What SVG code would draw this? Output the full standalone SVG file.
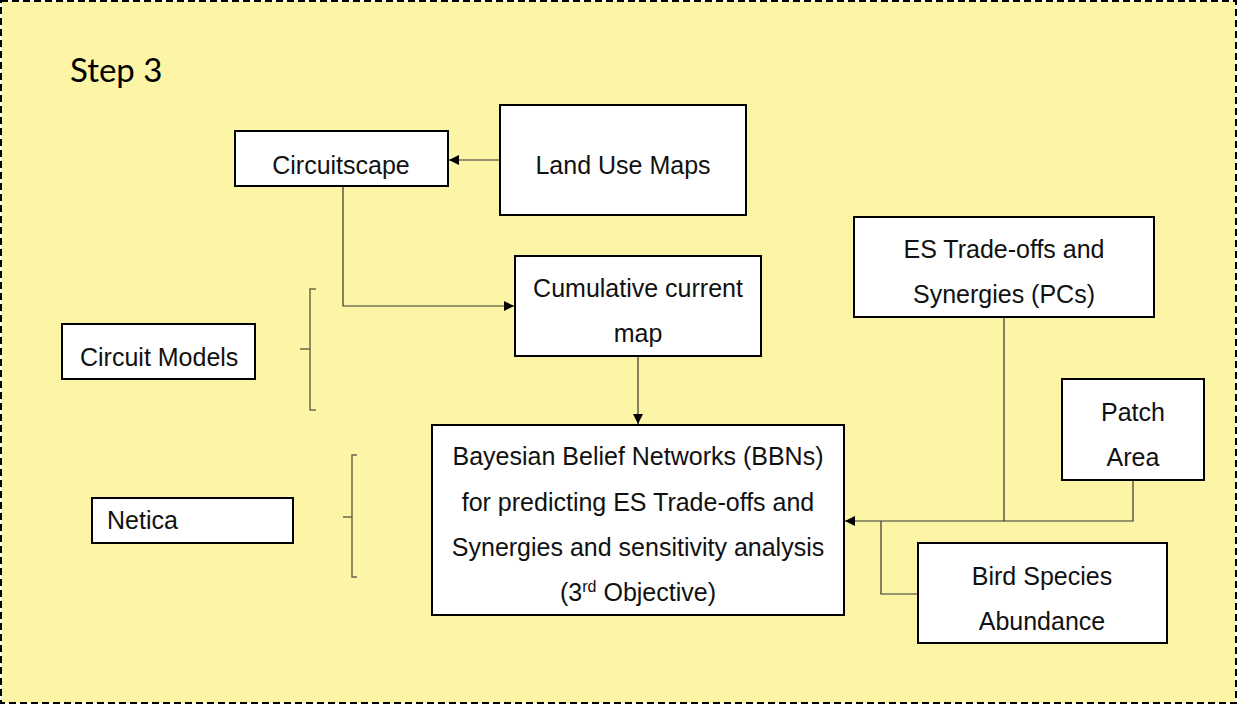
<svg xmlns="http://www.w3.org/2000/svg" width="1237" height="704" viewBox="0 0 1237 704">
<defs>
<marker id="arr" viewBox="0 0 10 10" refX="10" refY="5" markerWidth="10" markerHeight="10" markerUnits="userSpaceOnUse" orient="auto">
<path d="M0,0 L10,5 L0,10 Z" fill="#000"/>
</marker>
<style>
.box{fill:#fff;stroke:#000;stroke-width:2}
.t{font-family:"Liberation Sans",Arial,sans-serif;font-size:25px;fill:#111;text-anchor:middle}
.c{fill:none;stroke:#333;stroke-width:1.2}
.br{fill:none;stroke:#6b6848;stroke-width:1.5}
</style>
</defs>
<rect x="1" y="1" width="1235" height="702" fill="#fdf5a6" stroke="#000" stroke-width="2" stroke-dasharray="7,4"/>
<text x="70" y="82" font-family="Lato,'Open Sans',sans-serif" font-size="33" fill="#000">Step 3</text>

<g id="connectors">
<path class="c" d="M500,160 L449,160" marker-end="url(#arr)"/>
<path class="c" d="M343,187 L343,306 L514,306" marker-end="url(#arr)"/>
<path class="c" d="M638,357 L638,424" marker-end="url(#arr)"/>
<path class="c" d="M1004,318 L1004,521 L845,521" marker-end="url(#arr)"/>
<path class="c" d="M1133,481 L1133,521 L1004,521"/>
<path class="c" d="M918,594 L881,594 L881,521"/>
<path class="br" d="M316,289 L310,289 L310,410 L316,410 M300,349 L310,349"/>
<path class="br" d="M357,455 L352,455 L352,577 L357,577 M343,517 L352,517"/>
</g>

<g id="circuitscape"><rect class="box" x="235" y="131" width="213" height="55"/><text class="t" x="341" y="174">Circuitscape</text></g>
<g id="landuse"><rect class="box" x="500" y="105" width="246" height="110"/><text class="t" x="623" y="174">Land Use Maps</text></g>
<g id="cumulative"><rect class="box" x="515" y="256" width="246" height="100"/><text class="t" x="638" y="297">Cumulative current</text><text class="t" x="638" y="342">map</text></g>
<g id="circuitmodels"><rect class="box" x="62" y="324" width="193" height="55"/><text class="t" x="80" y="366" style="text-anchor:start">Circuit Models</text></g>
<g id="netica"><rect class="box" x="92" y="498" width="201" height="45"/><text class="t" x="107" y="529" style="text-anchor:start">Netica</text></g>
<g id="bbn"><rect class="box" x="432" y="425" width="412" height="190"/>
<text class="t" x="638" y="465">Bayesian Belief Networks (BBNs)</text>
<text class="t" x="638" y="511">for predicting ES Trade-offs and</text>
<text class="t" x="638" y="556">Synergies and sensitivity analysis</text>
<text class="t" x="638" y="601">(3<tspan font-size="16" dy="-9">rd</tspan><tspan dy="9"> Objective)</tspan></text>
</g>
<g id="estradeoffs"><rect class="box" x="854" y="217" width="300" height="100"/><text class="t" x="1004" y="258">ES Trade-offs and</text><text class="t" x="1004" y="303">Synergies (PCs)</text></g>
<g id="patcharea"><rect class="box" x="1062" y="379" width="142" height="101"/><text class="t" x="1133" y="421">Patch</text><text class="t" x="1133" y="466">Area</text></g>
<g id="bird"><rect class="box" x="918" y="543" width="249" height="100"/><text class="t" x="1042" y="585">Bird Species</text><text class="t" x="1042" y="630">Abundance</text></g>
</svg>
